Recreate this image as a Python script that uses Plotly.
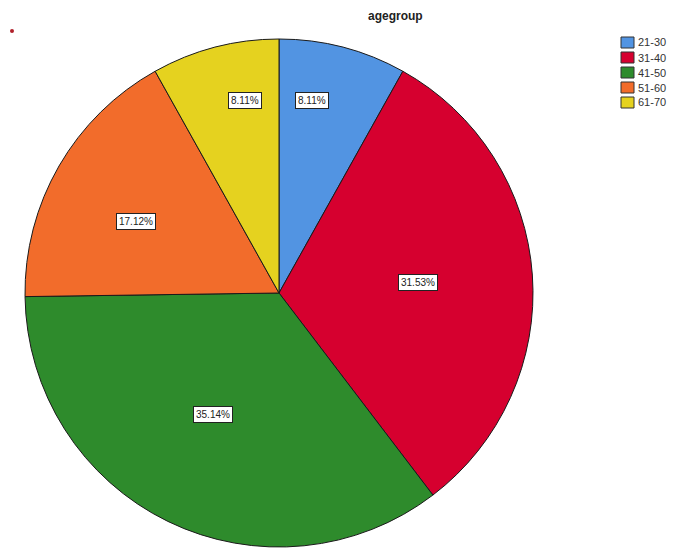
import math
import plotly.graph_objects as go

# Data
categories = ["21-30", "31-40", "41-50", "51-60", "61-70"]
counts = [9, 35, 39, 19, 9]
colors = ["#5294e2", "#d6002f", "#2e8b2c", "#f26c2b", "#e5d21f"]
title_text = "agegroup"

W, H = 676, 556
OFF = 8  # default body margin of the html page


def px2x(px):
    return (px - OFF) / W


def px2y(py):
    return 1 - (py - OFF) / H


cx_px, cy_px, R_px = 279, 293, 254

total = sum(counts)
pcts = [c / total * 100 for c in counts]

fig = go.Figure()
fig.add_trace(go.Pie(
    labels=categories,
    values=counts,
    sort=False,
    direction="clockwise",
    rotation=0,
    marker=dict(colors=colors, line=dict(color="#1a1a1a", width=1)),
    textinfo="none",
    hoverinfo="label+percent",
    showlegend=False,
    domain=dict(x=[px2x(cx_px - R_px), px2x(cx_px + R_px)],
                y=[px2y(cy_px + R_px), px2y(cy_px - R_px)]),
))

# percentage labels in white boxes, placed relative to each slice's mid-angle
radial = [0.767, 0.549, 0.543, 0.629, 0.768]
ang_shift = [-4.85, -0.4, 2.7, -3.6, 4.6]
cum = 0.0
for i, p in enumerate(pcts):
    mid = (cum + p / 2) / 100 * 360 + ang_shift[i]
    cum += p
    a = math.radians(mid)
    px = cx_px + radial[i] * R_px * math.sin(a)
    py = cy_px - radial[i] * R_px * math.cos(a)
    fig.add_annotation(
        x=px2x(px), y=px2y(py), xref="paper", yref="paper",
        xanchor="center", yanchor="middle",
        text=f"{p:.2f}%", showarrow=False,
        font=dict(family="Liberation Sans, Arial", size=10, color="#222"),
        bgcolor="white", bordercolor="#222", borderwidth=1, borderpad=2,
    )

# title
fig.add_annotation(
    x=px2x(395), y=px2y(16), xref="paper", yref="paper",
    xanchor="center", yanchor="middle",
    text=f"<b>{title_text}</b>", showarrow=False,
    font=dict(family="Liberation Sans, Arial", size=12, color="#222"),
)

# small dot at top-left
fig.add_shape(type="circle", xref="paper", yref="paper",
              x0=px2x(10), x1=px2x(14), y0=px2y(33), y1=px2y(29),
              fillcolor="#b0202a", line=dict(width=0))

# legend (drawn manually for the tight SPSS-like spacing)
leg_x, leg_y0, leg_dy = 621, 37, 15
for i, (cat, col) in enumerate(zip(categories, colors)):
    top = leg_y0 + i * leg_dy
    fig.add_shape(type="rect", xref="paper", yref="paper",
                  x0=px2x(leg_x), x1=px2x(leg_x + 13),
                  y0=px2y(top + 11), y1=px2y(top),
                  fillcolor=col, line=dict(color="#333", width=1))
    fig.add_annotation(
        x=px2x(leg_x + 15), y=px2y(top + 5.5), xref="paper", yref="paper",
        xanchor="left", yanchor="middle", text=cat, showarrow=False,
        font=dict(family="Liberation Sans, Arial", size=11, color="#333"),
    )

fig.update_layout(
    width=W, height=H,
    margin=dict(l=0, r=0, t=0, b=0),
    paper_bgcolor="white",
    plot_bgcolor="white",
    showlegend=False,
)

fig.write_html("out.html")
